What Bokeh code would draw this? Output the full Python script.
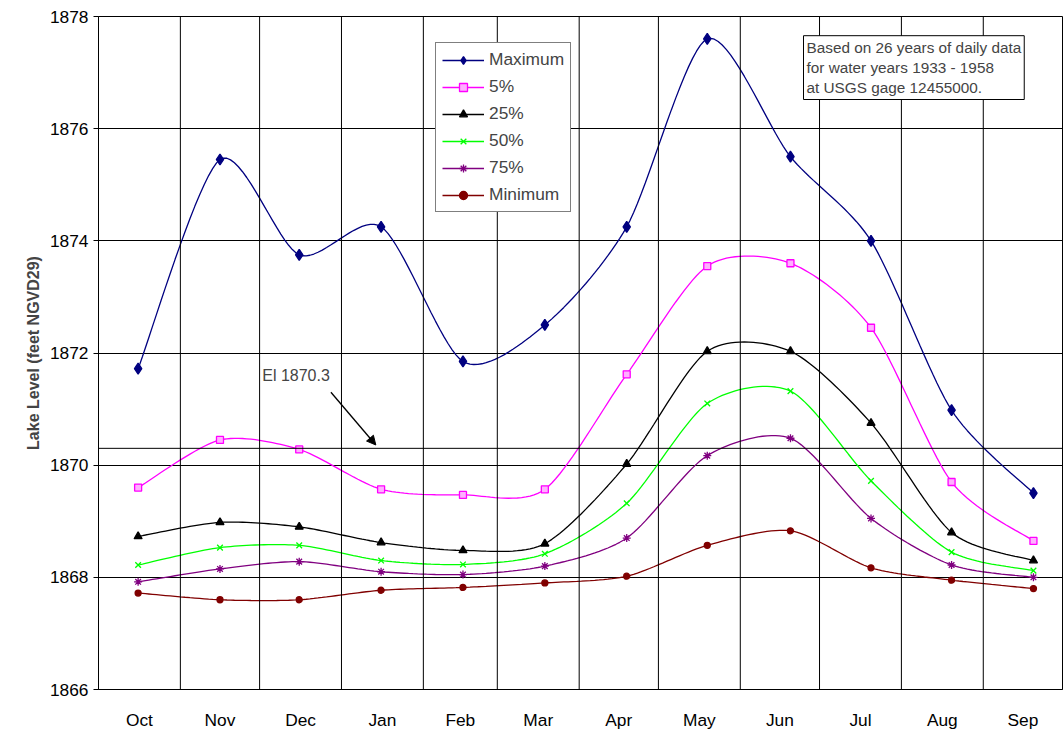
import numpy as np
from bokeh.plotting import figure
from bokeh.models import Span, Label, Arrow, NormalHead, Legend, LegendItem, FixedTicker
from bokeh.embed import file_html
from bokeh.resources import INLINE

months = ["Oct","Nov","Dec","Jan","Feb","Mar","Apr","May","Jun","Jul","Aug","Sep"]
month_days = [31,30,31,31,28,31,30,31,30,31,31,30]
day_x = [15, 46, 76, 107, 138, 169, 200, 230.5, 262, 292.5, 323, 354]
maximum = [1871.72,1875.45,1873.75,1874.25,1871.85,1872.5,1874.25,1877.6,1875.5,1874.0,1870.98,1869.5]
p5 = [1869.6,1870.45,1870.28,1869.57,1869.47,1869.57,1871.62,1873.55,1873.6,1872.45,1869.7,1868.65]
p25 = [1868.73,1868.98,1868.9,1868.62,1868.48,1868.6,1870.02,1872.03,1872.03,1870.75,1868.8,1868.3]
p50 = [1868.22,1868.53,1868.57,1868.3,1868.23,1868.42,1869.32,1871.1,1871.32,1869.72,1868.45,1868.12]
p75 = [1867.92,1868.15,1868.28,1868.1,1868.05,1868.2,1868.7,1870.17,1870.48,1869.05,1868.22,1868.0]
minimum = [1867.72,1867.6,1867.6,1867.77,1867.82,1867.9,1868.02,1868.57,1868.83,1868.17,1867.95,1867.8]
ref_level = 1870.3

def smooth(x, y, n=20, k=0.8):
    x = np.asarray(x, float); y = np.asarray(y, float)
    P = np.column_stack([x, y])
    P = np.vstack([P[0], P, P[-1]])
    out = []
    t = np.linspace(0, 1, n, endpoint=False)
    for i in range(1, len(P) - 2):
        p0, p1, p2, p3 = P[i-1], P[i], P[i+1], P[i+2]
        m1 = (p2 - p0) / 2 * k
        m2 = (p3 - p1) / 2 * k
        h00 = 2*t**3 - 3*t**2 + 1; h10 = t**3 - 2*t**2 + t
        h01 = -2*t**3 + 3*t**2; h11 = t**3 - t**2
        seg = (h00[:, None]*p1 + h10[:, None]*m1 + h01[:, None]*p2 + h11[:, None]*m2)
        out.append(seg)
    out.append(P[-2][None, :])
    S = np.vstack(out)
    return S[:, 0], S[:, 1]

p = figure(width=1064, height=732, x_range=(0, 365), y_range=(1866, 1878),
           output_backend="svg", toolbar_location=None,
           min_border_left=98, min_border_right=2, min_border_top=16, min_border_bottom=34)
p.xgrid.visible = False
p.ygrid.grid_line_color = "black"
p.ygrid.grid_line_width = 1
p.outline_line_color = "black"
p.background_fill_color = "white"

bounds = np.cumsum(month_days)[:-1]
for b in bounds:
    p.add_layout(Span(location=float(b), dimension="height", line_color="black", line_width=1))
p.add_layout(Span(location=ref_level, dimension="width", line_color="black", line_width=1))

centers = [float(c) for c in (np.cumsum([0] + month_days[:-1]) + np.array(month_days) / 2)]
p.xaxis.ticker = FixedTicker(ticks=centers)
p.xaxis.major_label_overrides = {c: m for c, m in zip(centers, months)}
p.xaxis.major_tick_line_color = None
p.xaxis.minor_tick_line_color = None
p.xaxis.major_label_standoff = 14
p.yaxis.ticker = FixedTicker(ticks=list(range(1866, 1879, 2)))
p.yaxis.minor_tick_line_color = None
p.yaxis.major_tick_in = 0
p.yaxis.major_tick_out = 5
for ax in (p.xaxis, p.yaxis):
    ax.major_label_text_font = "Liberation Sans"
    ax.major_label_text_font_size = "13pt"
    ax.major_label_text_color = "black"
    ax.axis_line_color = "black"
p.yaxis.axis_label = "Lake Level (feet NGVD29)"
p.yaxis.axis_label_text_font = "Liberation Sans"
p.yaxis.axis_label_text_font_style = "bold"
p.yaxis.axis_label_text_font_size = "12pt"

series = [
    ("Maximum", maximum, "#000080", "diamond", "#000080", 11),
    ("5%", p5, "#FF00FF", "square", "#FFB0FF", 7),
    ("25%", p25, "#000000", "triangle", "#000000", 8),
    ("50%", p50, "#00FF00", "x", "#00FF00", 8),
    ("75%", p75, "#800080", "asterisk", "#800080", 8),
    ("Minimum", minimum, "#800000", "circle", "#800000", 6),
]
items = []
for name, ys, col, mk, fill, sz in series:
    sx, sy = smooth(day_x, ys)
    r1 = p.line(sx, sy, line_color=col, line_width=1.3)
    r2 = p.scatter(day_x, ys, marker=mk, size=sz,
                   line_color=col, fill_color=fill, line_width=1.3)
    items.append(LegendItem(label=name, renderers=[r1, r2]))

legend = Legend(items=items, location=(337, 477), border_line_color="black",
                label_text_font="Liberation Sans", label_text_font_size="13pt",
                glyph_width=42, spacing=6, padding=6, margin=0, background_fill_alpha=1)
p.add_layout(legend, "center")

p.add_layout(Label(x=705, y=590, x_units="screen", y_units="screen",
                   text="Based on 26 years of daily data\nfor water years 1933 - 1958\nat USGS gage 12455000.",
                   text_font="Liberation Sans", text_font_size="11.5pt",
                   border_line_color="black", background_fill_color="white", padding=3))
p.add_layout(Label(x=62, y=1871.6, text="El 1870.3", text_font="Liberation Sans",
                   text_font_size="12pt", text_baseline="middle"))
p.add_layout(Arrow(x_start=88, y_start=1871.3, x_end=105, y_end=1870.36,
                   line_color="black", line_width=1.3,
                   end=NormalHead(size=9, fill_color="black", line_color="black")))

open("out.html", "w").write(file_html(p, INLINE))
